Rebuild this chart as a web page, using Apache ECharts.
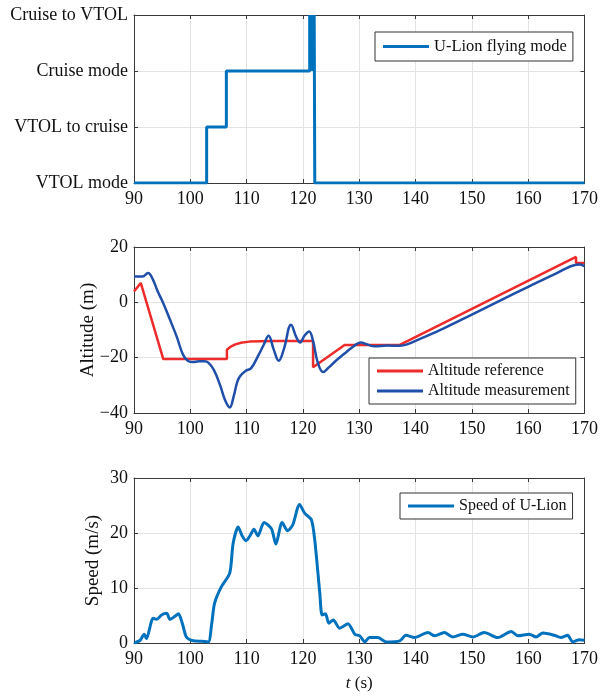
<!DOCTYPE html>
<html>
<head>
<meta charset="utf-8">
<script src="https://cdn.jsdelivr.net/npm/echarts@6/dist/echarts.min.js"></script>
<style>
  html, body { margin: 0; padding: 0; background: #fff; }
  #chart { width: 601px; height: 697px; }
</style>
</head>
<body>
<div id="chart"></div>
<script>
// 数据
var modeLabels = ['VTOL mode', 'VTOL to cruise', 'Cruise mode', 'Cruise to VTOL'];
var modeT = [90, 102.9, 102.9, 106.4, 106.4, 121.2, 121.2, 121.4, 121.4, 121.6, 121.6, 121.8, 121.8, 122.0, 122.0, 122.1, 122.1, 170];
var modeV = [0, 0, 1, 1, 2, 2, 3, 3, 2, 2, 3, 3, 2, 2, 3, 3, 0, 0];

var refT = [90, 91.2, 95.2, 106.5, 106.5, 107.2, 108, 109, 110.5, 112.5, 115, 121.8, 121.8, 127.4, 137.2, 168.5, 168.5, 170];
var refV = [3.9, 7, -20.5, -20.5, -17.1, -16.0, -15.2, -14.6, -14.2, -14.05, -14.0, -14.0, -23.5, -15.4, -15.4, 16.4, 14.2, 14.2];

var measT = [90, 91.5, 92.5, 93.3, 94.2, 95.2, 96.4, 97.6, 98.7, 99.6, 100.5, 101.5, 102.5, 103.2, 104.2, 105.3, 106.2, 107.0, 107.7, 108.3, 108.8, 109.8, 110.8, 112.0, 113.0, 113.9, 114.8, 115.7, 116.6, 117.9, 118.8, 119.5, 120.3, 121.1, 121.8, 122.6, 123.6, 124.6, 125.8, 127.4, 128.6, 130.3, 131.5, 132.7, 135, 137.2, 138.5, 140.7, 145, 150, 155, 160, 165, 168.5, 169.2, 170];
var measV = [9.3, 9.3, 10.6, 8.5, 4, -0.3, -6.3, -12.5, -18.9, -21.2, -21.6, -21.3, -21.3, -21.8, -24.5, -30, -35.5, -38, -34, -29, -26.8, -24.8, -23.8, -19.5, -15.5, -12.1, -17, -21.1, -17, -8.1, -12.5, -14.5, -12, -10.5, -14, -21.5, -25.2, -23.5, -21.2, -18.5, -16.5, -14.5, -15.3, -15.9, -15.6, -15.7, -15.2, -13.3, -9.4, -4.4, 0.6, 5.6, 10.5, 13.6, 13.7, 13.0];

var speedT = [90, 91.1, 91.8, 92.2, 93.4, 94.0, 94.9, 95.8, 96.4, 97.2, 97.9, 98.6, 99.3, 100.5, 102, 103.2, 103.8, 104.3, 105.5, 107.0, 107.6, 108.5, 109.2, 109.9, 110.6, 111.3, 112.0, 113.1, 114.4, 115.2, 116.3, 117.3, 118.2, 119.4, 120.3, 121.5, 122.1, 123.0, 123.4, 124.0, 124.6, 125.4, 126.5, 128.0, 129.2, 130.1, 131.0, 131.8, 133.3, 134.8, 137.2, 138.3, 139.8, 142.2, 143.4, 145.1, 146.6, 148.4, 150.2, 152.2, 154.6, 157.0, 158.2, 160.2, 161.4, 162.6, 164.6, 165.8, 167.0, 167.9, 169.1, 170];
var speedV = [0, 0.5, 1.6, 0.8, 4.5, 4.3, 5.1, 5.4, 4.3, 4.8, 5.3, 3.5, 1.1, 0.4, 0.3, 0.2, 3.5, 7.2, 10.2, 12.7, 18.1, 21.1, 19.5, 18.6, 19.5, 20.7, 19.5, 21.9, 20.8, 18.0, 21.9, 20.4, 21.5, 25.2, 23.6, 22.4, 18.7, 9.0, 5.1, 5.3, 3.6, 4.2, 2.7, 3.5, 1.6, 1.3, 0.2, 1.0, 1.0, 0.2, 0.4, 1.4, 1.0, 1.9, 1.3, 1.9, 1.1, 1.6, 1.1, 1.9, 1.0, 2.1, 1.3, 1.6, 1.1, 1.8, 1.4, 1.0, 1.4, 0.2, 0.6, 0.5];

function pairs(t, v) {
  var out = [];
  for (var i = 0; i < t.length; i++) out.push([t[i], v[i]]);
  return out;
}

var font = 'Liberation Serif, Times New Roman, serif';
var axisColor = '#3a3a3a';
var gridColor = '#e3e3e3';

var grids = [
  { left: 134, width: 451, top: 15, height: 168 },
  { left: 134, width: 451, top: 247, height: 166 },
  { left: 134, width: 451, top: 478, height: 165 }
];

var xAxes = [];
var yAxes = [];
var yRanges = [[0, 3, 1], [-40, 20, 20], [0, 30, 10]];
var yNames = ['', 'Altitude (m)', 'Speed (m/s)'];
var yNameGaps = [30, 36, 31];

for (var g = 0; g < 3; g++) {
  // 下方 x 轴
  xAxes.push({
    type: 'value', gridIndex: g, min: 90, max: 170, interval: 10,
    position: 'bottom',
    axisLine: { show: true, onZero: false, lineStyle: { color: axisColor } },
    axisTick: { show: true, inside: true, length: 4, lineStyle: { color: axisColor } },
    axisLabel: { color: '#111', fontFamily: font, fontSize: 18, margin: 7 },
    splitLine: { show: true, lineStyle: { color: gridColor } },
    name: g === 2 ? '{i|t} (s)' : '',
    nameLocation: 'middle', nameGap: 32,
    nameTextStyle: { color: '#111', fontFamily: font, fontSize: 17,
      rich: { i: { fontStyle: 'italic', fontFamily: font, fontSize: 17, color: '#111' } } }
  });
  // 上方 x 轴（框线）
  xAxes.push({
    type: 'value', gridIndex: g, min: 90, max: 170, interval: 10,
    position: 'top',
    axisLine: { show: true, onZero: false, lineStyle: { color: axisColor } },
    axisTick: { show: true, inside: true, length: 4, lineStyle: { color: axisColor } },
    axisLabel: { show: false },
    splitLine: { show: false }
  });
  var r = yRanges[g];
  yAxes.push({
    type: 'value', gridIndex: g, min: r[0], max: r[1], interval: r[2],
    position: 'left',
    axisLine: { show: true, onZero: false, lineStyle: { color: axisColor } },
    axisTick: { show: true, inside: true, length: 4, lineStyle: { color: axisColor } },
    axisLabel: {
      color: '#111', fontFamily: font, fontSize: 18, margin: 6,
      formatter: g === 0
        ? function (v) { return modeLabels[Math.round(v)]; }
        : function (v) { return String(v).replace('-', '\u2212'); }
    },
    splitLine: { show: true, lineStyle: { color: gridColor } },
    name: yNames[g], nameLocation: 'middle', nameGap: yNameGaps[g],
    nameMoveOverlap: false,
    nameTextStyle: { color: '#111', fontFamily: font, fontSize: 19 }
  });
  yAxes.push({
    type: 'value', gridIndex: g, min: r[0], max: r[1], interval: r[2],
    position: 'right',
    axisLine: { show: true, onZero: false, lineStyle: { color: axisColor } },
    axisTick: { show: true, inside: true, length: 4, lineStyle: { color: axisColor } },
    axisLabel: { show: false },
    splitLine: { show: false }
  });
}

var legendBase = {
  orient: 'vertical',
  backgroundColor: '#fff',
  borderColor: '#333',
  borderWidth: 1,
  borderRadius: 0,
  itemWidth: 46,
  itemHeight: 3,
  itemGap: 4,
  icon: 'rect',
  textStyle: { color: '#111', fontFamily: font, fontSize: 16 }
};

var option = {
  animation: false,
  grid: grids,
  xAxis: xAxes,
  yAxis: yAxes,
  legend: [
    Object.assign({}, legendBase, { data: ['U-Lion flying mode'], left: 375, top: 32, padding: [6, 6, 6, 8],
      textStyle: { color: '#111', fontFamily: font, fontSize: 16.5 } }),
    Object.assign({}, legendBase, { data: ['Altitude reference', 'Altitude measurement'], left: 369, top: 358, padding: [5, 6, 5, 8] }),
    Object.assign({}, legendBase, { data: ['Speed of U-Lion'], left: 400, top: 493, padding: [5, 6, 5, 8] })
  ],
  series: [
    {
      name: 'U-Lion flying mode', type: 'line', xAxisIndex: 0, yAxisIndex: 0,
      data: pairs(modeT, modeV), showSymbol: false,
      lineStyle: { color: '#0072BD', width: 3 }, itemStyle: { color: '#0072BD' }
    },
    {
      name: 'Altitude reference', type: 'line', xAxisIndex: 2, yAxisIndex: 2,
      data: pairs(refT, refV), showSymbol: false,
      lineStyle: { color: '#ee2b2b', width: 2.5 }, itemStyle: { color: '#ee2b2b' }
    },
    {
      name: 'Altitude measurement', type: 'line', xAxisIndex: 2, yAxisIndex: 2,
      data: pairs(measT, measV), showSymbol: false, smooth: 0.4,
      lineStyle: { color: '#1f4fa8', width: 2.5 }, itemStyle: { color: '#1f4fa8' }
    },
    {
      name: 'Speed of U-Lion', type: 'line', xAxisIndex: 4, yAxisIndex: 4,
      data: pairs(speedT, speedV), showSymbol: false, smooth: 0.25,
      lineStyle: { color: '#0072BD', width: 3 }, itemStyle: { color: '#0072BD' }
    }
  ]
};

var chart = echarts.init(document.getElementById('chart'));
chart.setOption(option);
</script>
</body>
</html>
